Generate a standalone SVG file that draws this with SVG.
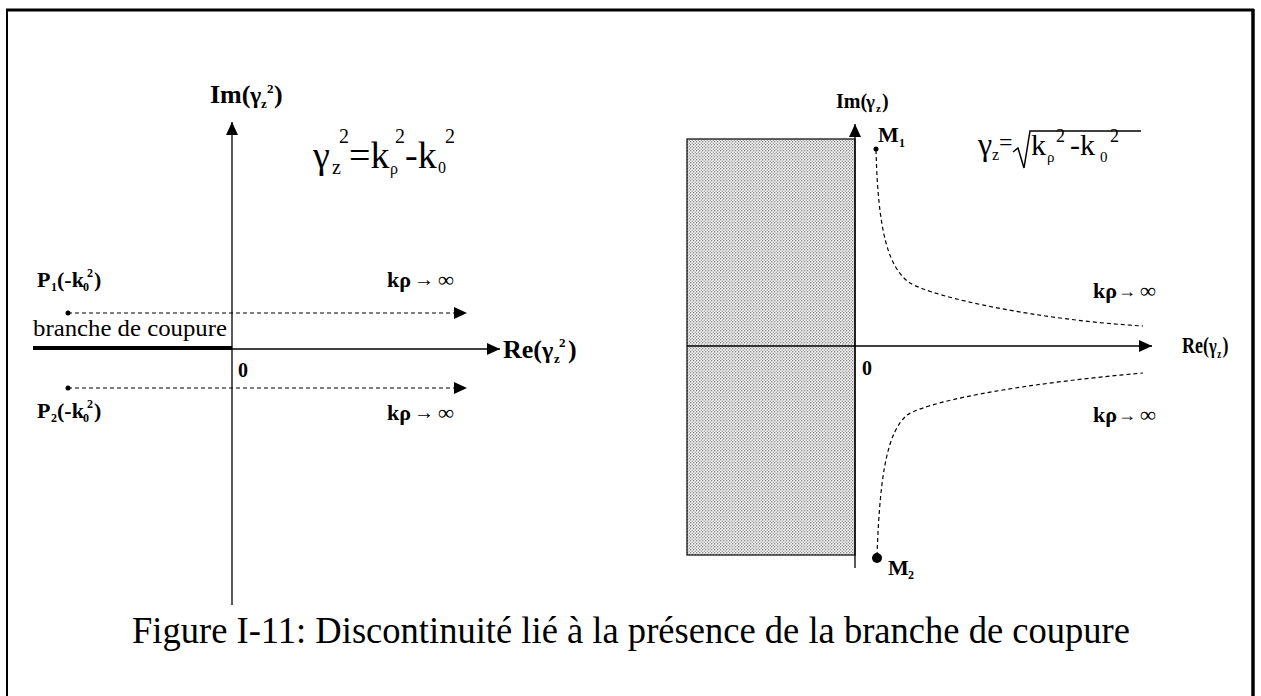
<svg xmlns="http://www.w3.org/2000/svg" width="1261" height="696" viewBox="0 0 1261 696">
<style>
.t{font-family:"Liberation Serif","Times New Roman","DejaVu Serif",serif;fill:#000}
.b{font-weight:bold}
.ax{stroke:#000;stroke-width:1.3;fill:none}
.dash{stroke:#000;stroke-width:1.2;fill:none;stroke-dasharray:4 3}
.dot{fill:#000}
</style>
<defs>
<marker id="arr" markerUnits="userSpaceOnUse" markerWidth="14" markerHeight="14" refX="13" refY="7" orient="auto">
<path d="M0,1 L13,7 L0,13 Z" fill="#000"/>
</marker>
<pattern id="stip" width="3" height="3" patternUnits="userSpaceOnUse">
<rect width="3" height="3" fill="#f6f6f6"/>
<circle cx="0.75" cy="0.75" r="0.65" fill="#666"/>
<circle cx="2.25" cy="2.25" r="0.65" fill="#888"/>
</pattern>
</defs>
<rect width="1261" height="696" fill="#fff"/>
<g id="frame">
<path d="M7,696 L7,10" stroke="#000" stroke-width="2" fill="none"/>
<path d="M6,10 L1254,10" stroke="#000" stroke-width="3" fill="none"/>
<path d="M1253,9 L1253,696" stroke="#000" stroke-width="3.5" fill="none"/>
</g>
<g id="shaded-region">
<rect x="687" y="139" width="168" height="416" fill="url(#stip)" stroke="#000" stroke-width="1.2"/>
</g>
<g id="connectors">
<line class="ax" x1="232" y1="605" x2="232" y2="122" marker-end="url(#arr)"/>
<line class="ax" x1="232" y1="349" x2="500" y2="349" marker-end="url(#arr)"/>
<line x1="33" y1="348" x2="232" y2="348" stroke="#000" stroke-width="4"/>
<line class="dash" x1="68" y1="313" x2="467" y2="313" marker-end="url(#arr)"/>
<line class="dash" x1="68" y1="388" x2="467" y2="388" marker-end="url(#arr)"/>
<line class="ax" x1="855" y1="568" x2="855" y2="124" marker-end="url(#arr)"/>
<line class="ax" x1="687" y1="346" x2="1152" y2="346" marker-end="url(#arr)"/>
<path class="dash" d="M876,150 C878,230 888,268 910,283 C935,298 1040,320 1143,326"/>
<path class="dash" d="M877,556 C880,470 888,432 907,415 C935,398 1040,382 1143,373"/>
</g>
<g id="label-im-left">
<text class="t b" font-size="26"><tspan x="210" y="103">Im(</tspan><tspan x="250" y="103" font-size="24">γ</tspan><tspan x="261" y="108" font-size="13">z</tspan><tspan x="267" y="93" font-size="13">2</tspan><tspan x="274" y="103">)</tspan></text>
</g>
<g id="formula-left">
<text class="t" font-size="38"><tspan x="313" y="168">γ</tspan><tspan x="332" y="174" font-size="20">z</tspan><tspan x="339" y="143" font-size="20">2</tspan><tspan x="349" y="168">=k</tspan><tspan x="390" y="174" font-size="16">ρ</tspan><tspan x="395" y="143" font-size="20">2</tspan><tspan x="405" y="168">-k</tspan><tspan x="438" y="173" font-size="16">0</tspan><tspan x="445" y="143" font-size="20">2</tspan></text>
</g>
<g id="point-P1">
<circle class="dot" cx="68" cy="313" r="2.5"/>
<text class="t b" font-size="22"><tspan x="37" y="287">P</tspan><tspan x="51" y="291" font-size="12">1</tspan><tspan x="57" y="287">(-k</tspan><tspan x="83" y="291" font-size="12">0</tspan><tspan x="87" y="277" font-size="12">2</tspan><tspan x="94" y="287">)</tspan></text>
</g>
<g id="point-P2">
<circle class="dot" cx="68" cy="388" r="2.5"/>
<text class="t b" font-size="22"><tspan x="37" y="418">P</tspan><tspan x="51" y="422" font-size="12">2</tspan><tspan x="57" y="418">(-k</tspan><tspan x="83" y="422" font-size="12">0</tspan><tspan x="87" y="408" font-size="12">2</tspan><tspan x="94" y="418">)</tspan></text>
</g>
<g id="label-kp-left-up">
<text class="t b" font-size="22"><tspan x="387" y="287">kρ</tspan><tspan x="414" y="286" font-size="20">→</tspan><tspan x="438" y="287">∞</tspan></text>
</g>
<g id="label-kp-left-down">
<text class="t b" font-size="22"><tspan x="387" y="420">kρ</tspan><tspan x="414" y="419" font-size="20">→</tspan><tspan x="438" y="420">∞</tspan></text>
</g>
<g id="label-branche">
<text class="t" font-size="24" x="33" y="336" textLength="194" lengthAdjust="spacingAndGlyphs">branche de coupure</text>
</g>
<g id="label-origin-left">
<text class="t b" font-size="20" x="238" y="377">0</text>
</g>
<g id="label-re-left">
<text class="t b" font-size="26"><tspan x="503" y="358">Re(</tspan><tspan x="542" y="358" font-size="24">γ</tspan><tspan x="554" y="363" font-size="13">z</tspan><tspan x="559" y="347" font-size="13">2</tspan><tspan x="568" y="358">)</tspan></text>
</g>
<g id="label-im-right">
<text class="t b" font-size="20"><tspan x="836" y="108">Im(</tspan><tspan x="866" y="108" font-size="19">γ</tspan><tspan x="876" y="112" font-size="11">z</tspan><tspan x="882" y="108">)</tspan></text>
</g>
<g id="formula-right">
<text class="t" font-size="30"><tspan x="978" y="155" font-size="32">γ</tspan><tspan x="992" y="160" font-size="16">z</tspan><tspan x="999" y="150" font-size="24">=</tspan><tspan x="1031" y="155">k</tspan><tspan x="1047" y="162" font-size="15">ρ</tspan><tspan x="1056" y="142" font-size="18">2</tspan><tspan x="1070" y="155">-k</tspan><tspan x="1100" y="162" font-size="15">0</tspan><tspan x="1110" y="142" font-size="18">2</tspan></text>
<path d="M1013,152 L1018,148 L1024,168 L1030,131 L1141,131" stroke="#000" stroke-width="1.5" fill="none"/>
</g>
<g id="point-M1">
<circle class="dot" cx="876" cy="149" r="2.5"/>
<text class="t b" font-size="22"><tspan x="878" y="142">M</tspan><tspan x="899" y="147" font-size="12">1</tspan></text>
</g>
<g id="point-M2">
<circle class="dot" cx="877" cy="558" r="5"/>
<text class="t b" font-size="22"><tspan x="888" y="575">M</tspan><tspan x="908" y="579" font-size="12">2</tspan></text>
</g>
<g id="label-origin-right">
<text class="t b" font-size="20" x="862" y="375">0</text>
</g>
<g id="label-re-right">
<text class="t b" font-size="24" transform="translate(1182,353) scale(0.75,1)"><tspan x="0" y="0">Re(</tspan><tspan x="36" y="0" font-size="22">γ</tspan><tspan x="47" y="5" font-size="12">z</tspan><tspan x="54" y="0">)</tspan></text>
</g>
<g id="label-kp-right-up">
<text class="t b" font-size="22"><tspan x="1093" y="298">kρ</tspan><tspan x="1118" y="297" font-size="18">→</tspan><tspan x="1140" y="298">∞</tspan></text>
</g>
<g id="label-kp-right-down">
<text class="t b" font-size="22"><tspan x="1093" y="422">kρ</tspan><tspan x="1118" y="421" font-size="18">→</tspan><tspan x="1140" y="422">∞</tspan></text>
</g>
<g id="caption">
<text class="t" font-size="37" x="132" y="643" textLength="998" lengthAdjust="spacingAndGlyphs">Figure I-11: Discontinuité lié à la présence de la branche de coupure</text>
</g>
</svg>
